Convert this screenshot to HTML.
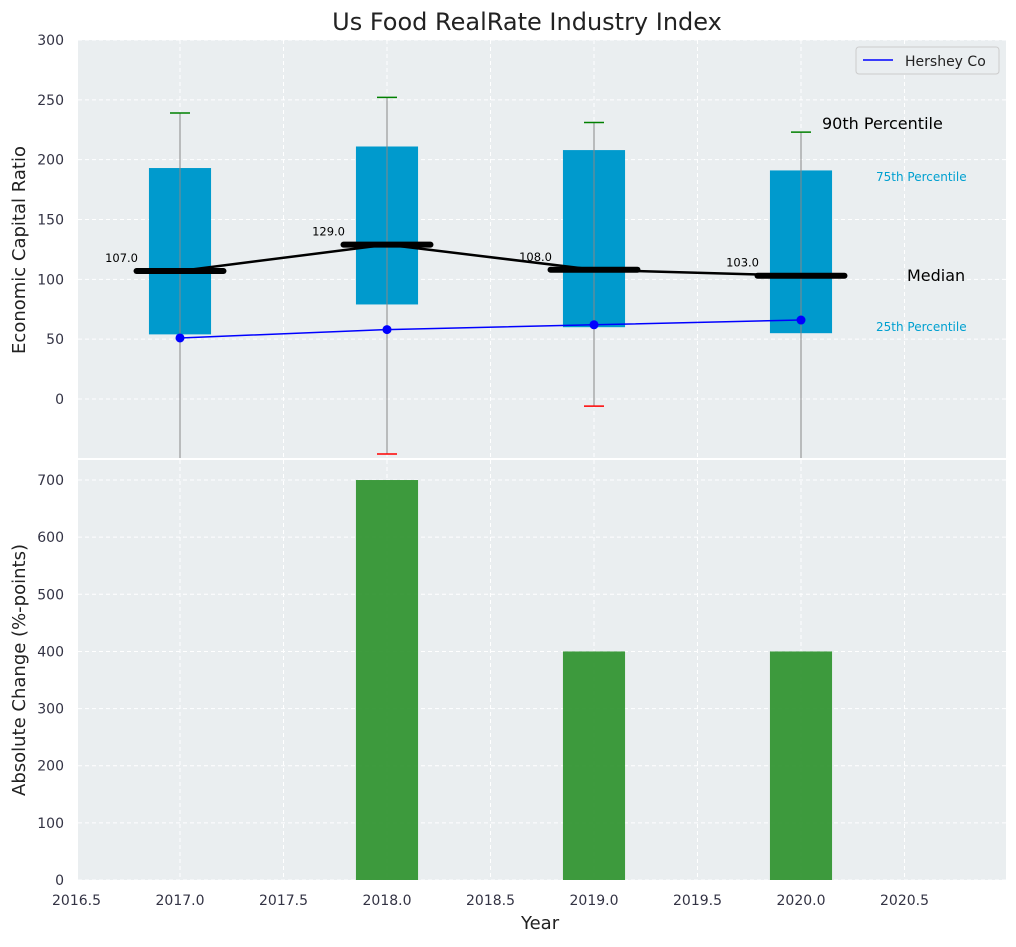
<!DOCTYPE html>
<html><head><meta charset="utf-8"><style>
body{margin:0;background:#fff;font-family:"Liberation Sans","DejaVu Sans",sans-serif}
svg text{font-family:"DejaVu Sans","Liberation Sans",sans-serif}
</style></head><body>
<svg id="c" width="1016" height="942" xmlns="http://www.w3.org/2000/svg"></svg>
<script>
const years=[2017,2018,2019,2020];
const q1=[54,79,60,55];
const q3=[193,211,208,191];
const medians=[107,129,108,103];
const whiskTop=[239,252,231,223];
const whiskBot=[-60,-46,-6,-60];
const hershey=[51,58,62,66];
const changeYears=[2018,2019,2020];
const changes=[700,400,400];
const xTicks=[2016.5,2017,2017.5,2018,2018.5,2019,2019.5,2020,2020.5];
const yTicksTop=[0,50,100,150,200,250,300];
const yTicksBot=[0,100,200,300,400,500,600,700];

const S=document.getElementById('c'),NS='http://www.w3.org/2000/svg';
function el(t,a,p){const e=document.createElementNS(NS,t);for(const k in a)e.setAttribute(k,a[k]);(p||S).appendChild(e);return e;}
const L=78,R=1006;
const X=v=>76.5+(v-2016.5)*207;
const T0=40,T1=458,Y1=v=>399-v*1.1967;
const B0=460,B1=880,Y2=v=>880-v*0.5714;

let t=el('text',{x:527,y:30,'text-anchor':'middle','font-size':24,fill:'#222'});t.textContent='Us Food RealRate Industry Index';


function panel(y0,y1,yt,Y,name){
  const r=el('rect',{x:L,y:y0,width:R-L,height:y1-y0,fill:'#eaeef0'});
  
  xTicks.forEach(v=>el('line',{x1:X(v),x2:X(v),y1:y0,y2:y1,stroke:'#fff','stroke-dasharray':'4,3','stroke-width':1}));
  yt.forEach(v=>{const y=Y(v);el('line',{x1:L,x2:R,y1:y,y2:y,stroke:'#fff','stroke-dasharray':'4,3'});
    const tx=el('text',{x:L-14,y:y+5,'text-anchor':'end','font-size':14,fill:'#334'});tx.textContent=v;
    });
}
panel(T0,T1,yTicksTop,Y1,'top');
panel(B0,B1,yTicksBot,Y2,'bottom');

const g=el('g',{'clip-path':'url(#cp)'});
const d=el('defs',{});const cp=el('clipPath',{id:'cp'},d);el('rect',{x:L,y:T0,width:R-L,height:T1-T0},cp);

years.forEach((yr,i)=>{
  const x=X(yr),w=0.3*207;
  const b=el('rect',{x:x-w/2,y:Y1(q3[i]),width:w,height:Y1(q1[i])-Y1(q3[i]),fill:'#009ACD'},g);
  
  el('line',{x1:x,x2:x,y1:Y1(whiskTop[i]),y2:Y1(whiskBot[i]),stroke:'#888','stroke-width':1},g);
  el('line',{x1:x-10,x2:x+10,y1:Y1(whiskTop[i]),y2:Y1(whiskTop[i]),stroke:'green','stroke-width':1.5},g);
  el('line',{x1:x-10,x2:x+10,y1:Y1(whiskBot[i]),y2:Y1(whiskBot[i]),stroke:'red','stroke-width':1.5},g);
  const m=el('line',{x1:x-0.42*207/2,x2:x+0.42*207/2,y1:Y1(medians[i]),y2:Y1(medians[i]),stroke:'#000','stroke-width':6,'stroke-linecap':'round'},g);
  
  const l=el('text',{x:x-42,y:Y1(medians[i])-9,'text-anchor':'end','font-size':11.5,fill:'#000'});l.textContent=medians[i].toFixed(1);
  
});
const ml=el('polyline',{points:years.map((y,i)=>X(y)+','+Y1(medians[i])).join(' '),fill:'none',stroke:'#000','stroke-width':2.5});

const hl=el('polyline',{points:years.map((y,i)=>X(y)+','+Y1(hershey[i])).join(' '),fill:'none',stroke:'blue','stroke-width':1.5});

years.forEach((y,i)=>{const c=el('circle',{cx:X(y),cy:Y1(hershey[i]),r:4.5,fill:'blue'});
  });

function txt(x,y,s,sz,col,n){const e=el('text',{x,y,'font-size':sz,fill:col});e.textContent=s;
  }
txt(822,129,'90th Percentile',16,'#000','p90-annotation');
txt(876,181,'75th Percentile',12,'#00a0d0','p75-annotation');
txt(907,281,'Median',16,'#000','median-annotation');
txt(876,331,'25th Percentile',12,'#00a0d0','p25-annotation');

const lg=el('g',{});
el('rect',{x:856,y:47,width:143,height:27,rx:3,fill:'#eaeef0',stroke:'#ccc'},lg);
el('line',{x1:863,x2:893,y1:60,y2:60,stroke:'blue','stroke-width':1.5},lg);
const lt=el('text',{x:905,y:66,'font-size':14,fill:'#222'},lg);lt.textContent='Hershey Co';

changeYears.forEach((yr,i)=>{const w=0.3*207;
  const b=el('rect',{x:X(yr)-w/2,y:Y2(changes[i]),width:w,height:Y2(0)-Y2(changes[i]),fill:'#2e922e','fill-opacity':0.92});
  });

xTicks.forEach(v=>{const e=el('text',{x:X(v),y:905,'text-anchor':'middle','font-size':14,fill:'#334'});e.textContent=v.toFixed(1);
  });
txt(521,929,'Year',18,'#222','x-axis-title');
let a=el('text',{x:25,y:250,'text-anchor':'middle','font-size':18,fill:'#222',transform:'rotate(-90 25 250)'});a.textContent='Economic Capital Ratio';

a=el('text',{x:25,y:670,'text-anchor':'middle','font-size':18,fill:'#222',transform:'rotate(-90 25 670)'});a.textContent='Absolute Change (%-points)';

</script>
</body></html>
